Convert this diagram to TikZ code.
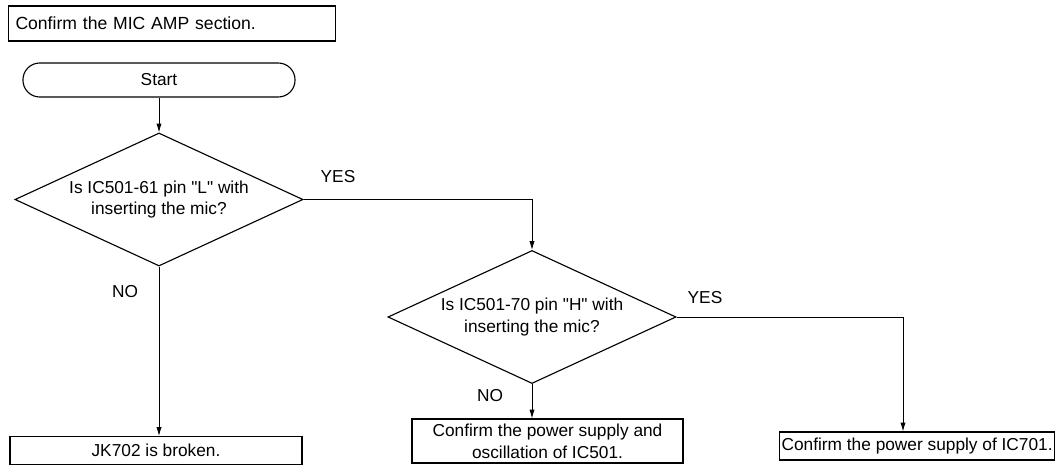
\documentclass[tikz,border=0pt]{standalone}
\usepackage{fontspec}
\setmainfont{Liberation Sans}[Ligatures=TeXOff]
\usepackage{tikz}
\usetikzlibrary{arrows.meta,positioning,shapes.geometric,calc}

\begin{document}
\begin{tikzpicture}[x=0.025cm, y=-0.025cm,
    every node/.style={font=\fontsize{12.3}{15.5}\selectfont},
    box/.style={draw, line width=0.8pt, inner sep=0pt, align=center, minimum width=7.3cm, minimum height=0.7cm},
    decision/.style={draw, diamond, line width=0.8pt, inner sep=0pt, aspect=2.17, align=center, minimum width=7.2cm, minimum height=3.325cm},
    flow/.style={line width=0.6pt, -{Latex[length=2.2mm, width=1.3mm]}}]
    \useasboundingbox (0,0) rectangle (1057,467);
    \node[draw, line width=1pt, anchor=west, inner xsep=0.17cm, inner ysep=0pt, text width=7.835cm, align=left, minimum height=0.875cm, font=\fontsize{12.5}{15}\selectfont] (title) at (8,23.5) {Confirm the MIC AMP section.};
    \node[draw, line width=0.8pt, rounded corners=0.42cm, minimum width=6.8cm, minimum height=0.85cm, inner sep=0pt] (start) at (159,80) {Start};
    \node[decision] (q1) at (159,199.5) {Is IC501-61 pin "L" with\\inserting the mic?};
    \node[decision] (q2) at (532,317) {Is IC501-70 pin "H" with\\inserting the mic?};
    \node[box] (jk) at (156,450.5) {JK702 is broken.};
    \node[box, minimum width=6.775cm, minimum height=1.1cm] (osc) at (547.5,441) {Confirm the power supply and\\oscillation of IC501.};
    \node[box, minimum width=0pt, inner xsep=0.05cm, anchor=west] (ic701) at (779,446) {Confirm the power supply of IC701.};
    % labels
    \node (yes1) at (338,177) {YES};
    \node (no1) at (125,292) {NO};
    \node (yes2) at (705,298) {YES};
    \node (no2) at (490,396) {NO};
    % connectors
    \draw[flow] (start) -- (q1);
    \draw[flow] (q1.east) -| (q2.north);
    \draw[flow] (q1.south) -- (q1.south |- jk.north);
    \draw[flow] (q2.east) -| (903,0 |- ic701.north);
    \draw[flow] (q2.south) -- (q2.south |- osc.north);
  \end{tikzpicture}
\end{document}
